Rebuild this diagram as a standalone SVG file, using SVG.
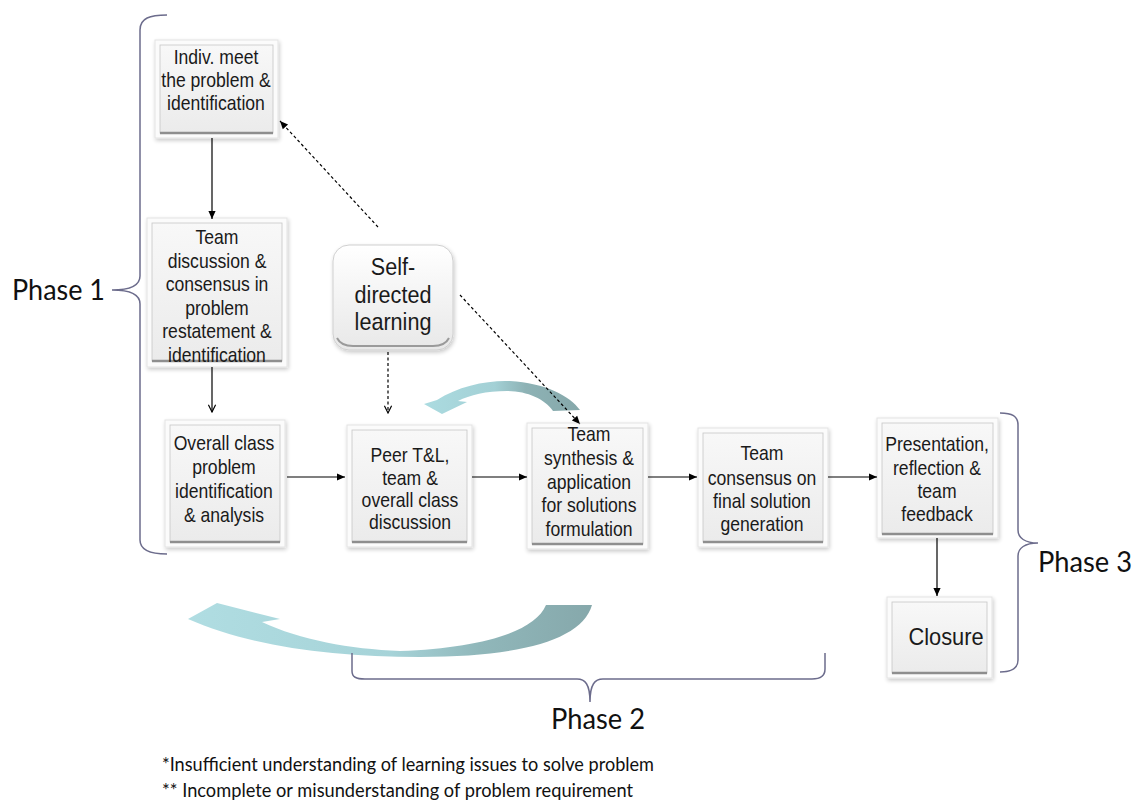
<svg xmlns="http://www.w3.org/2000/svg" width="1137" height="800" viewBox="0 0 1137 800">
<style>
.outer{fill:#fbfbfb;stroke:#e3e3e3;stroke-width:1;filter:url(#sh)}
.inner{fill:url(#bg);stroke:#c6c6c6;stroke-width:0.8}
.base{stroke:#8e8e8e;stroke-width:2.5}
.t{font-family:"Liberation Sans",Arial,sans-serif;font-size:20px;fill:#1a1a1a;text-anchor:middle}
.ph{font-family:Lato,"Open Sans",sans-serif;font-size:29px;fill:#111}
.fn{font-family:Lato,"Open Sans",sans-serif;font-size:19.5px;fill:#111}
.br{fill:none;stroke:#6c6c8c;stroke-width:1.5}
.c{fill:none;stroke:#000;stroke-width:1.2}
.d{fill:none;stroke:#000;stroke-width:1.2;stroke-dasharray:3 2.5}
</style>
<defs>
<filter id="sh" x="-10%" y="-10%" width="125%" height="125%">
<feGaussianBlur in="SourceAlpha" stdDeviation="2"/>
<feOffset dx="1" dy="2" result="o"/>
<feComponentTransfer><feFuncA type="linear" slope="0.22"/></feComponentTransfer>
<feMerge><feMergeNode/><feMergeNode in="SourceGraphic"/></feMerge>
</filter>
<linearGradient id="bg" x1="0" y1="0" x2="0" y2="1">
<stop offset="0" stop-color="#f8f8f8"/><stop offset="1" stop-color="#ebebeb"/>
</linearGradient>
<linearGradient id="sg" x1="0" y1="0" x2="0" y2="1">
<stop offset="0" stop-color="#ffffff"/><stop offset="1" stop-color="#e8e8e8"/>
</linearGradient>
<linearGradient id="big" gradientUnits="userSpaceOnUse" x1="190" y1="0" x2="592" y2="0">
<stop offset="0" stop-color="#b0dde2"/><stop offset="0.5" stop-color="#a6d3d8"/><stop offset="0.72" stop-color="#90b7ba"/><stop offset="1" stop-color="#86a8ab"/>
</linearGradient>
<linearGradient id="sm" gradientUnits="userSpaceOnUse" x1="425" y1="0" x2="580" y2="0">
<stop offset="0" stop-color="#abdbe0"/><stop offset="0.45" stop-color="#a3d0d5"/><stop offset="0.65" stop-color="#8db2b5"/><stop offset="1" stop-color="#86a8aa"/>
</linearGradient>
<marker id="ah" viewBox="0 0 10 10" refX="10" refY="5" markerWidth="9" markerHeight="8" markerUnits="userSpaceOnUse" orient="auto"><path d="M0,0.5 L10,5 L0,9.5 z" fill="#000"/></marker>
<marker id="av" viewBox="0 0 10 10" refX="9" refY="5" markerWidth="9" markerHeight="9" markerUnits="userSpaceOnUse" orient="auto"><path d="M1,1 L9,5 L1,9" fill="none" stroke="#000" stroke-width="1.3"/></marker>
</defs>
<rect width="1137" height="800" fill="#fff"/>

<g id="curved-arrows">
<path d="M188,619 L217,603 L280,619 L262,622 C300,640 350,649 400,651 C480,648 535,632 546,605 L592,605 C582,640 520,657 420,657 C330,657 250,646 188,619 Z" fill="url(#big)"/>
<path d="M442,414 L424,404 L437,400 C458,386 488,380 510,381 C545,383 570,396 580,410 L553,411 C545,399 527,391 507,391 C486,391 470,395 458,401 L467,402 Z" fill="url(#sm)"/>
</g>

<g id="braces">
<path class="br" d="M167,15 C150,15 140,18 140,30 L140,276 C140,285 132,290 112,290 C132,290 140,295 140,304 L140,540 C140,550 150,554 167,554"/>
<path class="br" d="M1000,413 C1012,413 1018,416 1018,425 L1018,530 C1018,538 1025,543 1038,543 C1025,543 1018,548 1018,556 L1018,660 C1018,668 1012,672 1000,672"/>
<path class="br" d="M352,653 L352,671 C352,677 356,679 365,679 L577,679 C585,679 590,684 590,702 C590,684 595,679 603,679 L812,679 C820,679 825,676 825,669 L825,653"/>
</g>

<g id="n-indiv">
<rect class="outer" x="155" y="40" width="123" height="98"/>
<rect class="inner" x="160" y="45" width="113" height="88"/>
<line class="base" x1="160" y1="133" x2="273" y2="133"/>
<text class="t" transform="translate(216,0) scale(0.88,1)"><tspan x="0" y="64">Indiv. meet</tspan><tspan x="0" y="87">the problem &amp;</tspan><tspan x="0" y="110">identification</tspan></text>
</g>

<g id="n-teamdisc">
<rect class="outer" x="147" y="218" width="140" height="149"/>
<rect class="inner" x="152" y="223" width="130" height="138"/>
<line class="base" x1="152" y1="361" x2="282" y2="361"/>
<text class="t" transform="translate(217,0) scale(0.88,1)"><tspan x="0" y="244">Team</tspan><tspan x="0" y="268">discussion &amp;</tspan><tspan x="0" y="291">consensus in</tspan><tspan x="0" y="315">problem</tspan><tspan x="0" y="338">restatement &amp;</tspan><tspan x="0" y="362">identification</tspan></text>
</g>

<g id="n-self">
<rect x="333" y="245" width="120" height="105" rx="16" fill="url(#sg)" stroke="#cfcfcf" stroke-width="1" filter="url(#sh)"/>
<path d="M337,338 Q341,346 353,346 L433,346 Q445,346 449,338" fill="none" stroke="#9a9a9a" stroke-width="2"/>
<text class="t" style="font-size:24px" transform="translate(393,0) scale(0.9,1)"><tspan x="0" y="275">Self-</tspan><tspan x="0" y="303">directed</tspan><tspan x="0" y="330">learning</tspan></text>
</g>

<g id="n-overall">
<rect class="outer" x="165" y="420" width="120" height="127"/>
<rect class="inner" x="170" y="425" width="110" height="117"/>
<line class="base" x1="170" y1="542" x2="280" y2="542"/>
<text class="t" transform="translate(224,0) scale(0.88,1)"><tspan x="0" y="450">Overall class</tspan><tspan x="0" y="474">problem</tspan><tspan x="0" y="498">identification</tspan><tspan x="0" y="522">&amp; analysis</tspan></text>
</g>

<g id="n-peer">
<rect class="outer" x="347" y="425" width="125" height="122"/>
<rect class="inner" x="352" y="430" width="115" height="112"/>
<line class="base" x1="352" y1="542" x2="467" y2="542"/>
<text class="t" transform="translate(410,0) scale(0.88,1)"><tspan x="0" y="462">Peer T&amp;L,</tspan><tspan x="0" y="485">team  &amp;</tspan><tspan x="0" y="507">overall class</tspan><tspan x="0" y="529">discussion</tspan></text>
</g>

<g id="n-synth">
<rect class="outer" x="527" y="423" width="121" height="126"/>
<rect class="inner" x="532" y="428" width="111" height="116"/>
<line class="base" x1="532" y1="544" x2="643" y2="544"/>
<text class="t" transform="translate(589,0) scale(0.88,1)"><tspan x="0" y="441">Team</tspan><tspan x="0" y="465">synthesis &amp;</tspan><tspan x="0" y="489">application</tspan><tspan x="0" y="512">for solutions</tspan><tspan x="0" y="536">formulation</tspan></text>
</g>

<g id="n-consensus">
<rect class="outer" x="698" y="428" width="130" height="119"/>
<rect class="inner" x="703" y="433" width="120" height="109"/>
<line class="base" x1="703" y1="542" x2="823" y2="542"/>
<text class="t" transform="translate(762,0) scale(0.88,1)"><tspan x="0" y="460">Team</tspan><tspan x="0" y="485">consensus on</tspan><tspan x="0" y="508">final solution</tspan><tspan x="0" y="531">generation</tspan></text>
</g>

<g id="n-present">
<rect class="outer" x="877" y="418" width="121" height="120"/>
<rect class="inner" x="882" y="423" width="111" height="111"/>
<line class="base" x1="882" y1="534" x2="993" y2="534"/>
<text class="t" transform="translate(937,0) scale(0.88,1)"><tspan x="0" y="451">Presentation,</tspan><tspan x="0" y="475">reflection &amp;</tspan><tspan x="0" y="498">team</tspan><tspan x="0" y="521">feedback</tspan></text>
</g>

<g id="n-closure">
<rect class="outer" x="887" y="597" width="105" height="81"/>
<rect class="inner" x="892" y="602" width="95" height="71"/>
<line class="base" x1="892" y1="673" x2="987" y2="673"/>
<text class="t" style="font-size:23px" transform="translate(946,0) scale(0.95,1)"><tspan x="0" y="645">Closure</tspan></text>
</g>

<g id="connectors">
<line class="c" x1="212" y1="138" x2="212" y2="219" marker-end="url(#ah)"/>
<line class="c" x1="212" y1="367" x2="212" y2="412" marker-end="url(#av)"/>
<line class="c" x1="287" y1="477" x2="345" y2="477" marker-end="url(#ah)"/>
<line class="c" x1="472" y1="477" x2="527" y2="477" marker-end="url(#ah)"/>
<line class="c" x1="648" y1="477" x2="697" y2="477" marker-end="url(#ah)"/>
<line class="c" x1="828" y1="477" x2="877" y2="477" marker-end="url(#ah)"/>
<line class="c" x1="937" y1="538" x2="937" y2="596" marker-end="url(#ah)"/>
<line class="d" x1="378" y1="227" x2="280" y2="121" marker-end="url(#ah)"/>
<line class="d" x1="460" y1="295" x2="580" y2="424" marker-end="url(#ah)"/>
<line class="d" x1="388" y1="352" x2="388" y2="413" marker-end="url(#av)"/>
</g>

<g id="labels">
<text class="ph" x="12" y="300" textLength="93" lengthAdjust="spacingAndGlyphs">Phase 1</text>
<text class="ph" x="551" y="729" textLength="94" lengthAdjust="spacingAndGlyphs">Phase 2</text>
<text class="ph" x="1038" y="572" textLength="94" lengthAdjust="spacingAndGlyphs">Phase 3</text>
<text class="fn" x="162" y="771" textLength="492" lengthAdjust="spacingAndGlyphs">*Insufficient understanding of learning issues to solve problem</text>
<text class="fn" x="162" y="797" textLength="471" lengthAdjust="spacingAndGlyphs">** Incomplete or misunderstanding of problem requirement</text>
</g>
</svg>
